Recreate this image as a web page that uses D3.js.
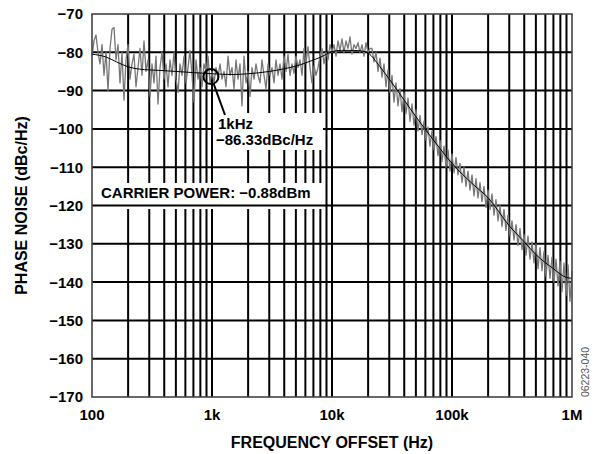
<!DOCTYPE html>
<html>
<head>
<meta charset="utf-8">
<script src="https://cdn.jsdelivr.net/npm/d3@7"></script>
<style>
  body { margin: 0; background: #fff; }
  text { font-family: "Liberation Sans", Arial, sans-serif; }
</style>
</head>
<body>
<svg id="area" width="603" height="454"></svg>
<script>
// x axis: frequency offset, log decades
const xTicks = [100, 1000, 10000, 100000, 1000000];
const xTickLabels = ['100', '1k', '10k', '100k', '1M'];
const yTicks = [-70, -80, -90, -100, -110, -120, -130, -140, -150, -160, -170];

// measured sweep: 60 points per decade starting at 100Hz
const sweepStart = 100;
const pointsPerDecade = 60;
const traceDbc = [
  // 100Hz - 1kHz
  -81, -77, -75.5, -80, -83, -78, -86, -80, -90, -79,
  -74, -73.5, -82, -78, -88, -80, -92.5, -82, -78, -87,
  -83, -80.5, -89, -84, -79, -86, -77, -85, -82, -91.5,
  -83, -88, -81, -93.5, -84, -80, -87, -83, -89, -82,
  -86, -80, -87, -90.5, -83, -86, -81, -88, -84, -79.5,
  -86, -93, -82, -87, -84, -89, -83, -85, -81, -88,
  // 1kHz - 10kHz
  -85, -88, -84, -86.5, -83, -87, -85, -89, -81, -86,
  -84, -89.5, -82, -87, -83, -94, -81, -88, -85, -91.5,
  -84, -87, -83, -86, -88, -82, -86, -89.5, -83, -86,
  -84, -88, -82, -86, -83, -87, -81, -85, -80.5, -86,
  -83, -85.5, -81, -84, -82, -86, -79, -83, -78.5, -84,
  -88, -83.5, -86, -84, -81, -79, -83, -80, -82, -78,
  // 10kHz - 100kHz
  -80, -78, -81, -77, -79.5, -76.5, -80, -77, -79, -76,
  -80.5, -78, -79, -77.5, -80, -78, -81, -77.5, -80, -79,
  -79, -82.5, -80, -85, -81.5, -86.5, -83, -89, -84.5, -90.5,
  -86, -93, -88, -94, -89.5, -95.5, -90.5, -96, -92, -98,
  -93.5, -99, -95, -100.5, -96.5, -101.5, -98, -103, -99.5, -104.5,
  -100.5, -105.5, -102, -107, -103, -108.5, -104.5, -110, -105.5, -111,
  // 100kHz - 1MHz
  -106.5, -111.5, -107.5, -112, -109, -114, -110, -115, -111, -116,
  -112, -117.5, -113, -118, -114, -119, -115, -120.5, -116, -121,
  -117, -122.5, -118.5, -124, -120, -125.5, -121, -126.5, -122.5, -128,
  -124, -129, -125, -130.5, -126, -131.5, -127.5, -133, -128, -134,
  -129.5, -135, -130, -136.5, -131, -137, -132, -138.5, -133, -139,
  -133.5, -140, -134, -141, -134.5, -142.5, -135, -143.5, -135.5, -145,
  -137
];

// averaged curve
const smoothFreq = [100, 130, 160, 200, 250, 300, 400, 500, 700, 1000,
  1500, 2000, 3000, 4000, 5000, 6000, 7000, 8000, 9000, 10000,
  12000, 15000, 18000, 20000, 25000, 30000, 40000, 50000, 70000, 100000,
  150000, 200000, 300000, 400000, 500000, 700000, 900000, 1000000];
const smoothDbc = [-80.5, -81.2, -82.5, -83.8, -84.4, -84.6, -84.8, -85.0, -85.3, -85.6,
  -85.8, -85.6, -85.0, -84.3, -83.6, -82.8, -82.0, -81.3, -80.5, -79.8,
  -79.5, -79.5, -79.7, -80.2, -83.7, -87.0, -92.5, -96.8, -102.9, -109.0,
  -114.5, -118.0, -125.3, -129.5, -132.8, -136.5, -138.8, -139.0];

const markerFreq = 1000;
const markerDbc = -86.33;

const svg = d3.select('#area');
const plotLeft = 92;
const plotRight = 572;
const plotTop = 14;
const plotBottom = 397;

const x = d3.scaleLog().domain([100, 1e6]).range([plotLeft, plotRight]);
const y = d3.scaleLinear().domain([-170, -70]).range([plotBottom, plotTop]);

const font = (sel, size) => sel
  .attr('font-size', size)
  .attr('font-weight', 'bold')
  .attr('fill', '#000');

// vertical grid, 1..9 per decade
const minor = [];
for (let d = 100; d < 1e6; d *= 10) {
  for (let m = 1; m < 10; m += 1) minor.push(d * m);
}
svg.append('g')
  .selectAll('line')
  .data(minor.slice(1))
  .join('line')
  .attr('x1', (d) => x(d))
  .attr('x2', (d) => x(d))
  .attr('y1', plotTop)
  .attr('y2', plotBottom)
  .attr('stroke', '#000')
  .attr('stroke-width', 2);

// carrier power box hides vertical lines only
svg.append('rect')
  .attr('x', plotLeft + 1)
  .attr('y', 183)
  .attr('width', 231)
  .attr('height', 26)
  .attr('fill', '#fff');

svg.append('g')
  .selectAll('line')
  .data(yTicks.slice(1, -1))
  .join('line')
  .attr('x1', plotLeft)
  .attr('x2', plotRight)
  .attr('y1', (d) => y(d))
  .attr('y2', (d) => y(d))
  .attr('stroke', '#000')
  .attr('stroke-width', 2);

// noisy trace
const trace = traceDbc.map((v, i) => [sweepStart * 10 ** (i / pointsPerDecade), v]);
svg.append('path')
  .datum(trace)
  .attr('fill', 'none')
  .attr('stroke', '#777')
  .attr('stroke-width', 1.3)
  .attr('stroke-linejoin', 'round')
  .attr('d', d3.line().x((d) => x(d[0])).y((d) => y(d[1])));

svg.append('path')
  .datum(smoothFreq.map((f, i) => [f, smoothDbc[i]]))
  .attr('fill', 'none')
  .attr('stroke', '#000')
  .attr('stroke-width', 1)
  .attr('d', d3.line().curve(d3.curveMonotoneX).x((d) => x(d[0])).y((d) => y(d[1])));

// marker annotation
const mx = x(markerFreq) - 1;
const my = y(markerDbc);
svg.append('rect')
  .attr('x', 213)
  .attr('y', 113)
  .attr('width', 110)
  .attr('height', 37)
  .attr('fill', '#fff');
svg.append('circle')
  .attr('cx', mx)
  .attr('cy', my)
  .attr('r', 7.5)
  .attr('fill', 'none')
  .attr('stroke', '#000')
  .attr('stroke-width', 2);
const ex = 225;
const ey = 115;
const ang = Math.atan2(ey - my, ex - mx);
svg.append('line')
  .attr('x1', mx + 7.5 * Math.cos(ang))
  .attr('y1', my + 7.5 * Math.sin(ang))
  .attr('x2', ex)
  .attr('y2', ey)
  .attr('stroke', '#000')
  .attr('stroke-width', 2);

svg.append('text').attr('x', 218).attr('y', 128.5)
  .call(font, 15).text('1kHz');
svg.append('text').attr('x', 216).attr('y', 145)
  .call(font, 15).text(`−${Math.abs(markerDbc).toFixed(2)}dBc/Hz`);
svg.append('text').attr('x', 101).attr('y', 198)
  .call(font, 15).text('CARRIER POWER: −0.88dBm');

// frame
svg.append('rect')
  .attr('x', plotLeft)
  .attr('y', plotTop)
  .attr('width', plotRight - plotLeft)
  .attr('height', plotBottom - plotTop)
  .attr('fill', 'none')
  .attr('stroke', '#444')
  .attr('stroke-width', 1.6);

// tick labels
svg.append('g')
  .selectAll('text')
  .data(yTicks)
  .join('text')
  .attr('x', 83)
  .attr('y', (d) => y(d))
  .attr('dy', '0.36em')
  .attr('text-anchor', 'end')
  .call(font, 15)
  .text((d) => d3.format('d')(d));

svg.append('g')
  .selectAll('text')
  .data(xTicks)
  .join('text')
  .attr('x', (d) => x(d))
  .attr('y', 420)
  .attr('text-anchor', 'middle')
  .call(font, 15)
  .text((d, i) => xTickLabels[i]);

svg.append('text')
  .attr('x', (plotLeft + plotRight) / 2)
  .attr('y', 448)
  .attr('text-anchor', 'middle')
  .call(font, 16)
  .text('FREQUENCY OFFSET (Hz)');

svg.append('text')
  .attr('transform', `translate(27,${(plotTop + plotBottom) / 2}) rotate(-90)`)
  .attr('text-anchor', 'middle')
  .call(font, 16)
  .text('PHASE NOISE (dBc/Hz)');

svg.append('text')
  .attr('transform', `translate(589,${372}) rotate(-90)`)
  .attr('text-anchor', 'middle')
  .attr('font-size', 10.5)
  .attr('fill', '#555')
  .text('06223-040');
</script>
</body>
</html>
